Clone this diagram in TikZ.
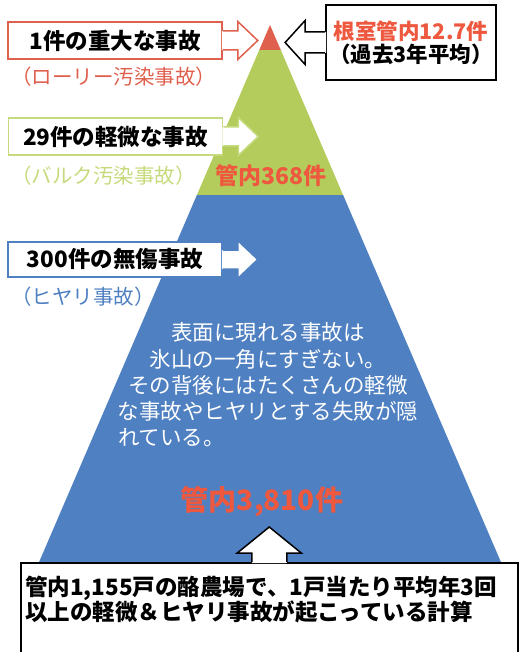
\documentclass[tikz,border=0pt]{standalone}
\usepackage{fontspec}
\setmainfont{Noto Sans CJK JP}
\usepackage{xcolor}
\usetikzlibrary{positioning}
\definecolor{tipred}{HTML}{E0604E}
\definecolor{midgreen}{HTML}{B4CC5C}
\definecolor{palegreen}{HTML}{C5DA7C}
\definecolor{baseblue}{HTML}{4F80C1}
\definecolor{countred}{HTML}{EE583E}
\tikzstyle{labelbox} = [rectangle, minimum width=214pt, minimum height=37pt, fill=white, line width=1.5pt, inner sep=0pt, font=\fontsize{22.5}{24}\selectfont\bfseries]
\tikzstyle{subtitle} = [anchor=west, inner sep=0pt, font=\fontsize{20.5}{22}\selectfont]
\tikzstyle{countlabel} = [text=countred, inner sep=0pt, font=\fontsize{23}{26}\selectfont\bfseries]
\newcommand{\calloutright}[2]{%
	\fill[white] ([xshift=-1pt,yshift=9.5pt]#1.east) -- ([xshift=15pt,yshift=9.5pt]#1.east) -- ([xshift=15pt,yshift=19pt]#1.east) -- ([xshift=35pt]#1.east) -- ([xshift=15pt,yshift=-19pt]#1.east) -- ([xshift=15pt,yshift=-9.5pt]#1.east) -- ([xshift=-1pt,yshift=-9.5pt]#1.east) -- cycle;
	\draw[#2, line width=1.5pt] ([yshift=9.5pt]#1.east) -- ([xshift=15pt,yshift=9.5pt]#1.east) -- ([xshift=15pt,yshift=19pt]#1.east) -- ([xshift=35pt]#1.east) -- ([xshift=15pt,yshift=-19pt]#1.east) -- ([xshift=15pt,yshift=-9.5pt]#1.east) -- ([yshift=-9.5pt]#1.east);}
\newcommand{\calloutleft}[2]{%
	\fill[white] ([xshift=1pt,yshift=10.5pt]#1.west) -- ([xshift=-20pt,yshift=10.5pt]#1.west) -- ([xshift=-20pt,yshift=22pt]#1.west) -- ([xshift=-40pt]#1.west) -- ([xshift=-20pt,yshift=-22pt]#1.west) -- ([xshift=-20pt,yshift=-10.5pt]#1.west) -- ([xshift=1pt,yshift=-10.5pt]#1.west) -- cycle;
	\draw[#2, line width=1.5pt] ([yshift=10.5pt]#1.west) -- ([xshift=-20pt,yshift=10.5pt]#1.west) -- ([xshift=-20pt,yshift=22pt]#1.west) -- ([xshift=-40pt]#1.west) -- ([xshift=-20pt,yshift=-22pt]#1.west) -- ([xshift=-20pt,yshift=-10.5pt]#1.west) -- ([yshift=-10.5pt]#1.west);}
\newcommand{\calloutup}[2]{%
	\fill[white] ([xshift=-17.5pt,yshift=-1pt]#1.north) -- ([xshift=-17.5pt,yshift=9pt]#1.north) -- ([xshift=-32pt,yshift=9pt]#1.north) -- ([yshift=35pt]#1.north) -- ([xshift=32pt,yshift=9pt]#1.north) -- ([xshift=17.5pt,yshift=9pt]#1.north) -- ([xshift=17.5pt,yshift=-1pt]#1.north) -- cycle;
	\draw[#2, line width=1.5pt] ([xshift=-17.5pt]#1.north) -- ([xshift=-17.5pt,yshift=9pt]#1.north) -- ([xshift=-32pt,yshift=9pt]#1.north) -- ([yshift=35pt]#1.north) -- ([xshift=32pt,yshift=9pt]#1.north) -- ([xshift=17.5pt,yshift=9pt]#1.north) -- ([xshift=17.5pt]#1.north);}

\begin{document}
\begin{tikzpicture}[x=1pt, y=-1pt]
		
		\useasboundingbox (0,0) rectangle (520,652);
		\clip (0,0) rectangle (520,652);
		
		% pyramid
		\fill[baseblue] (196.9,195) -- (343.1,195) -- (506.5,575) -- (33.5,575) -- cycle;
		\fill[midgreen] (259.25,50) -- (280.75,50) -- (343.1,195) -- (196.9,195) -- cycle;
		\fill[tipred] (270,25) -- (280.75,50) -- (259.25,50) -- cycle;
		
		\node (lv2count) [countlabel] at (271,176) {管内368件};
		\node (iceberg) [text=white, text width=310pt, inner sep=0pt, font=\fontsize{21.5}{26.25}\selectfont] at (268,385) {\centering 表面に現れる事故は\\氷山の一角にすぎない。\\その背後にはたくさんの軽微\\な事故やヒヤリとする失敗が隠\par\raggedright\hspace*{5pt}れている。\par};
		\node (lv3count) [countlabel, font=\fontsize{28}{30}\selectfont\bfseries] at (262,502) {管内3,810件};
		
		% left labels
		\node (heavy) [labelbox, draw=tipred] at (115,40.5) {1件の重大な事故};
		\calloutright{heavy}{tipred}
		\node (heavysub) [subtitle, text=tipred] at (11,77) {（ローリー汚染事故）};
		
		\node (minor) [labelbox, draw=palegreen] at (115.5,136.5) {29件の軽微な事故};
		\calloutright{minor}{palegreen}
		\node (minorsub) [subtitle, text=palegreen] at (11,176) {（バルク汚染事故）};
		
		\node (nearmiss) [labelbox, draw=baseblue, minimum height=35pt] at (115,259.5) {300件の無傷事故};
		\calloutright{nearmiss}{baseblue}
		\node (nearmisssub) [subtitle, text=baseblue] at (11,297) {（ヒヤリ事故）};
		
		% top right
		\node (nemuro) [draw=black, fill=white, line width=1.5pt, minimum width=168pt, minimum height=75pt, align=center, font=\fontsize{21.5}{23}\selectfont\bfseries] at (411,42.5) {\textcolor{countred}{根室管内12.7件}\\（過去3年平均）};
		\calloutleft{nemuro}{black}
		
		% bottom note
		\node (note) [draw=black, fill=white, line width=1.5pt, minimum width=497pt, minimum height=140pt, anchor=north west, inner sep=0pt] at (20,562) {};
		\calloutup{note}{black}
		\node (notetext) [below right = 14pt and 5pt of note.north west, anchor=north west, align=left, inner sep=0pt, font=\fontsize{22.5}{25}\selectfont\bfseries] {管内1,155戸の酪農場で、1戸当たり平均年3回\\以上の軽微＆ヒヤリ事故が起こっている計算};
		
\end{tikzpicture}
\end{document}
